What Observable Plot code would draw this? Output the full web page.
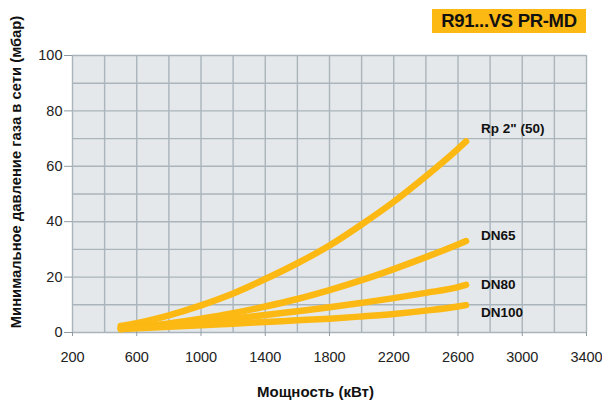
<!DOCTYPE html>
<html>
<head>
<meta charset="utf-8">
<script src="https://cdn.jsdelivr.net/npm/d3@7"></script>
<script src="https://cdn.jsdelivr.net/npm/@observablehq/plot@0.6"></script>
<style>
  body { margin: 0; background: #fff; font-family: "Liberation Sans", Arial, sans-serif; }
  #wrap { position: relative; width: 602px; height: 408px; }
  #title { position: absolute; left: 432px; top: 9px; width: 154px; height: 24px;
    background: #fcb813; color: #111; font-weight: bold; font-size: 18.5px; line-height: 24px;
    text-align: center; letter-spacing: -0.3px; }
</style>
</head>
<body>
<div id="wrap"><div id="title">R91...VS PR-MD</div></div>
<script>
const power = [500, 600, 800, 1000, 1200, 1400, 1600, 1800, 2000, 2200, 2400, 2600, 2650];
const rp2   = [2.4, 3.4, 6.2, 9.8, 14.1, 19.3, 25.0, 31.4, 39.0, 47.2, 56.4, 66.3, 69.0];
const dn65  = [1.6, 2.1, 3.3, 5.0, 7.0, 9.4, 12.1, 15.3, 18.9, 22.9, 27.2, 31.8, 33.0];
const dn80  = [1.3, 1.7, 2.7, 3.8, 5.0, 6.3, 7.7, 9.1, 10.7, 12.4, 14.3, 16.4, 17.2];
const dn100 = [1.2, 1.5, 2.1, 2.6, 3.2, 3.8, 4.4, 5.0, 5.8, 6.7, 7.9, 9.4, 9.9];
const seriesNames = ['Rp 2" (50)', "DN65", "DN80", "DN100"];
const seriesValues = [rp2, dn65, dn80, dn100];
const xTicks = [200, 600, 1000, 1400, 1800, 2200, 2600, 3000, 3400];
const yTicks = [0, 20, 40, 60, 80, 100];
const xGrid = d3.range(200, 3401, 200);
const yGrid = d3.range(0, 101, 10);
const xTitle = "Мощность (кВт)";
const yTitle = "Минимальное давление газа в сети (мбар)";

const data = seriesNames.flatMap((s, i) => power.map((p, j) => ({series: s, power: p, value: seriesValues[i][j]})));
const ends = seriesNames.map((s, i) => ({series: s, power: power[power.length - 1], value: seriesValues[i][power.length - 1]}));

const orange = "#fcb813";
const grid = "#a9b5bb";
const labelDy = [-13, -5, 0, 8];

const chart = Plot.plot({
  width: 602, height: 408,
  marginLeft: 72, marginRight: 16, marginTop: 55, marginBottom: 76,
  style: {fontFamily: '"Liberation Sans", Arial, sans-serif', fontSize: "14.5px", color: "#222", background: "transparent"},
  x: {domain: [200, 3400]},
  y: {domain: [0, 100]},
  marks: [
    Plot.frame({fill: "#e5e8ea", stroke: null}),
    Plot.ruleX(xGrid, {stroke: grid, strokeWidth: 1.4}),
    Plot.ruleY(yGrid, {stroke: grid, strokeWidth: 1.4}),
    Plot.axisX({ticks: xTicks, tickFormat: d3.format("d"), tickSize: 4, tickPadding: 15, label: null, stroke: "#8f9ba2", fill: "#222"}),
    Plot.axisY({ticks: yTicks, tickFormat: d3.format("d"), tickSize: 8, tickPadding: 2, label: null, stroke: "#8f9ba2", fill: "#222"}),
    Plot.line(data, {x: "power", y: "value", z: "series", stroke: orange, strokeWidth: 6.5,
      curve: "monotone-x", strokeLinecap: "round", strokeLinejoin: "round"}),
    ...ends.map((e, i) => Plot.text([e], {x: "power", y: "value", text: "series", textAnchor: "start",
      dx: 15, dy: labelDy[i], fontWeight: "bold", fontSize: 13.5, fill: "#111"})),
    Plot.text([xTitle], {frameAnchor: "bottom", dx: -14, dy: 64, fontWeight: "bold", fontSize: 15, fill: "#111"}),
    Plot.text([yTitle], {frameAnchor: "left", textAnchor: "middle", rotate: -90, dx: -56, dy: -22, fontWeight: "bold", fontSize: 14.8, fill: "#111"})
  ]
});
document.getElementById("wrap").prepend(chart);
</script>
</body>
</html>
